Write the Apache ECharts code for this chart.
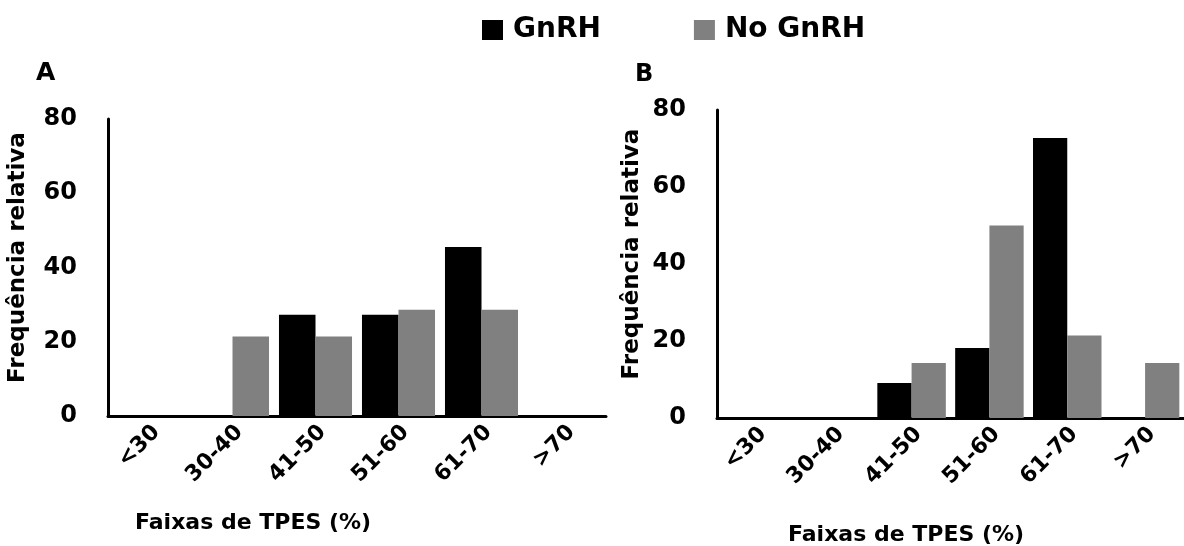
<!DOCTYPE html>
<html>
<head>
<meta charset="utf-8">
<script src="https://cdn.jsdelivr.net/npm/echarts@6/dist/echarts.min.js"></script>
<style>
html,body{margin:0;padding:0;background:#fff;}
#chart{width:1184px;height:546px;}
</style>
</head>
<body>
<div id="chart"></div>
<script>
var categories = ['<30', '30-40', '41-50', '51-60', '61-70', '>70'];
var seriesNames = ['GnRH', 'No GnRH'];
var gnrhA = [0, 0, 27.3, 27.3, 45.5, 0];
var noGnrhA = [0, 21.4, 21.4, 28.6, 28.6, 0];
var gnrhB = [0, 0, 9.1, 18.2, 72.7, 0];
var noGnrhB = [0, 0, 14.3, 50, 21.4, 14.3];
var yTicks = [0, 20, 40, 60, 80];
var panelLabels = ['A', 'B'];
var yTitle = 'Frequência relativa';
var xTitle = 'Faixas de TPES (%)';

var FONT = 'DejaVu Sans';
var chart = echarts.init(document.getElementById('chart'));

function xAxisFor(gi) {
  return {
    type: 'category', gridIndex: gi, data: categories,
    axisLine: {show: true, lineStyle: {color: '#000', width: 3}},
    axisTick: {show: false},
    axisLabel: {interval: 0, rotate: 45, margin: 20, color: '#000',
      fontFamily: FONT, fontWeight: 'bold', fontSize: 22, padding: [0, -10, 0, 0]}
  };
}
function yAxisFor(gi, gap) {
  return {
    type: 'value', gridIndex: gi, min: yTicks[0], max: yTicks[yTicks.length - 1], interval: 20,
    name: yTitle, nameLocation: 'middle', nameGap: gap,
    nameTextStyle: {color: '#000', fontFamily: FONT, fontWeight: 'bold', fontSize: 23, padding: [0, 0, 0, 20]},
    axisLine: {show: true, lineStyle: {color: '#000', width: 3}},
    axisTick: {show: false},
    splitLine: {show: false},
    axisLabel: {margin: 31, color: '#000', fontFamily: FONT, fontWeight: 'bold', fontSize: 24}
  };
}
function bar(name, data, gi) {
  return {
    type: 'bar', name: name, data: data, xAxisIndex: gi, yAxisIndex: gi,
    barGap: '0%', barCategoryGap: '12%',
    itemStyle: {color: name === seriesNames[0] ? '#000000' : '#808080'}
  };
}

chart.setOption({
  animation: false,
  backgroundColor: '#ffffff',
  legend: {
    data: seriesNames, left: 477, top: 11, icon: 'rect',
    itemWidth: 21, itemHeight: 20, itemGap: 93,
    textStyle: {color: '#000', fontFamily: FONT, fontWeight: 'bold', fontSize: 28, padding: [0, 0, 0, 5]}
  },
  grid: [
    {left: 108, top: 119, width: 498, height: 297},
    {left: 717, top: 110, width: 480, height: 308}
  ],
  xAxis: [xAxisFor(0), xAxisFor(1)],
  yAxis: [yAxisFor(0, 78), yAxisFor(1, 73)],
  series: [
    bar(seriesNames[0], gnrhA, 0), bar(seriesNames[1], noGnrhA, 0),
    bar(seriesNames[0], gnrhB, 1), bar(seriesNames[1], noGnrhB, 1)
  ],
  graphic: [
    {type: 'text', left: 36, top: 61, style: {text: panelLabels[0], fill: '#000', font: 'bold 25px "DejaVu Sans"'}},
    {type: 'text', left: 635, top: 63, style: {text: panelLabels[1], fill: '#000', font: 'bold 24px "DejaVu Sans"'}},
    {type: 'text', left: 135, top: 512, style: {text: xTitle, fill: '#000', font: 'bold 22px "DejaVu Sans"'}},
    {type: 'text', left: 788, top: 524, style: {text: xTitle, fill: '#000', font: 'bold 22px "DejaVu Sans"'}}
  ]
});
</script>
</body>
</html>
